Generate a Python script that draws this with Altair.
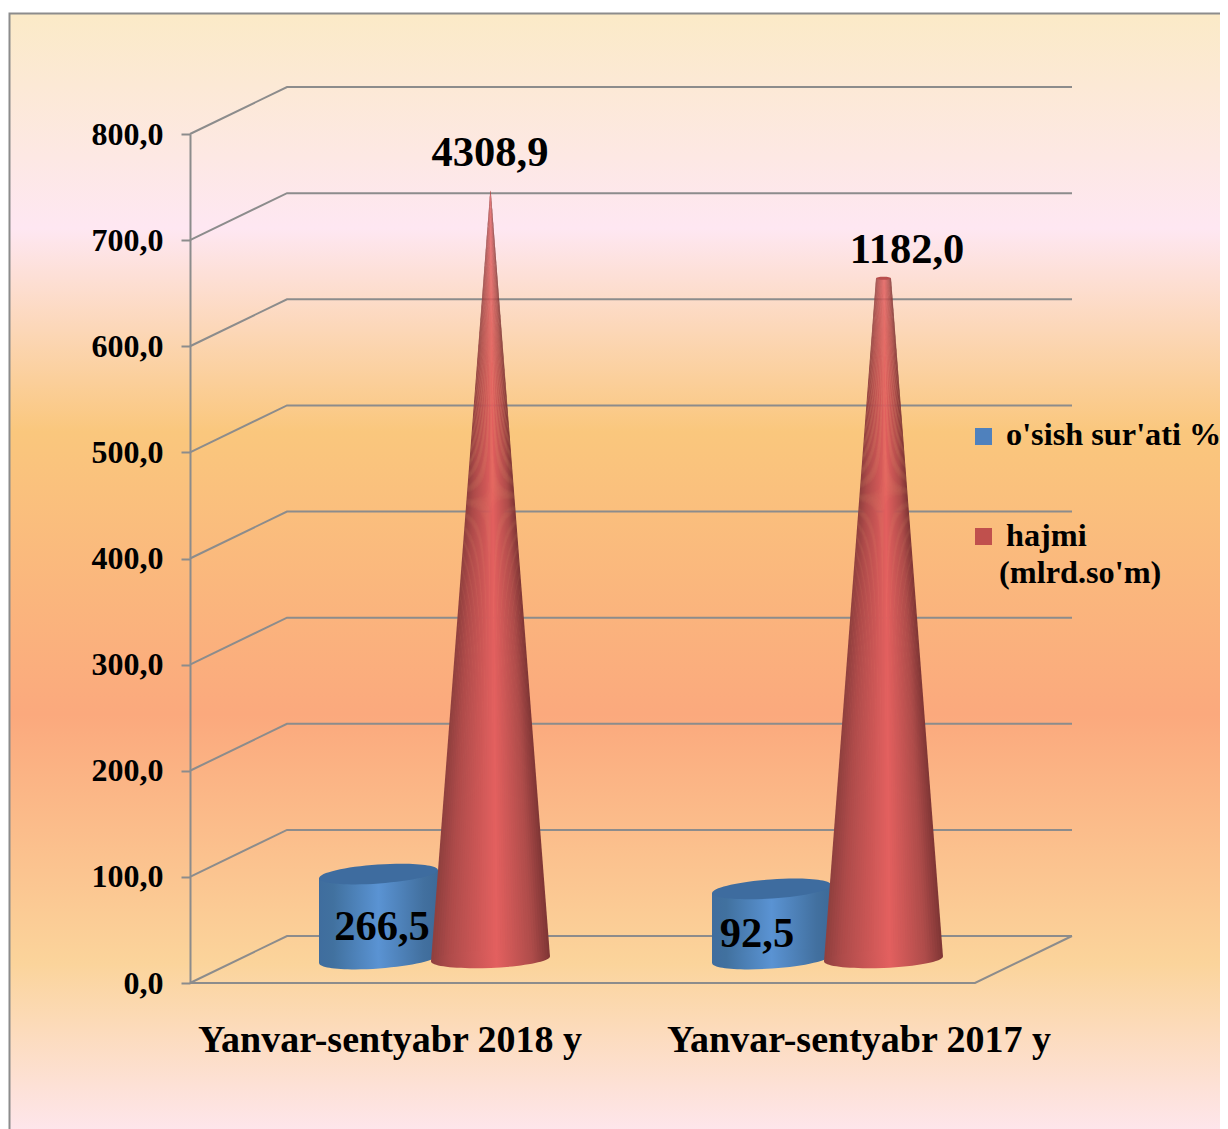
import altair as alt

# ---- chart values ----
categories = ["Yanvar-sentyabr 2018 y", "Yanvar-sentyabr 2017 y"]
growth_labels = ["266,5", "92,5"]
volume_labels = ["4308,9", "1182,0"]
growth_drawn = [102.7, 88.6]    # height of the cylinder tops as read on the axis
volume_drawn = [747.0, 664.0]   # height of the cone tops as read on the axis
base_level = 22.6               # floor level of the columns at mid depth
y_ticks = [0, 100, 200, 300, 400, 500, 600, 700, 800]
legend_labels = ["o'sish sur'ati %", "hajmi"]
legend_second_line = "(mlrd.so'm)"

# ---- layout (plot area = px from x 190, y 134..983) ----
PPU = 849 / 800
W, H = 885, 849
DEPTH_X, DEPTH_Y = 97, 47 / PPU
FLOOR_W = 785
cyl_x = [188.5, 581.5]
cone_x = [300.5, 693.5]
HALF = 59.5
cone_top_half = [0.2, 7.5]
STRIPS = 48
FONT = "Liberation Serif"
GRAY = "#8C8C8C"
RED_STOPS = [(0, "#8F3F3E"), (0.15, "#AE4B4A"), (0.55, "#E3605F"), (0.85, "#AE4C4A"), (1, "#7E3534")]
BLUE_STOPS = [(0, "#3F6D9E"), (0.12, "#41719F"), (0.5, "#5A93D3"), (0.88, "#42709F"), (1, "#3D6A98")]


def vy(pix_y):
    return (983 - pix_y) / PPU


def vx(pix_x):
    return pix_x - 190


def ellipse(r):
    a, b = 0.5523 * r, 0.5523
    return (f"M-1,0 C-1,-{a} -{b},-{r} 0,-{r} C{b},-{r} 1,-{a} 1,0 "
            f"C1,{a} {b},{r} 0,{r} C-{b},{r} -1,{a} -1,0 Z")


def grad(stops):
    return alt.LinearGradient(
        gradient="linear", x1=0, x2=1, y1=0, y2=0,
        stops=[alt.GradientStop(color=c, offset=o) for o, c in stops])


def shade(stops, t):
    for (o0, c0), (o1, c1) in zip(stops, stops[1:]):
        if t <= o1:
            f = (t - o0) / (o1 - o0)
            ch = [round(int(c0[k:k + 2], 16) * (1 - f) + int(c1[k:k + 2], 16) * f) for k in (1, 3, 5)]
            return "#%02X%02X%02X" % tuple(ch)
    return stops[-1][1]


xs = alt.Scale(domain=[0, W], range=[0, W], nice=False, zero=False)
ys = alt.Scale(domain=[0, 800], nice=False, zero=False)
y_axis = alt.Axis(
    values=y_ticks, title=None, grid=False, zindex=1,
    labelExpr="replace(format(datum.value,'.1f'),'.',',')",
    labelFont=FONT, labelFontWeight="bold", labelFontSize=32, labelColor="#000",
    labelPadding=18, tickSize=9, tickWidth=2, tickColor=GRAY,
    domainColor=GRAY, domainWidth=2, labelOverlap=False, labelBound=False)
X = alt.X("x:Q", scale=xs, axis=None)
Y = alt.Y("y:Q", scale=ys, axis=y_axis)

# background panel
bg_grad = alt.LinearGradient(
    gradient="linear", x1=0, x2=0, y1=0, y2=1,
    stops=[alt.GradientStop(color=c, offset=o) for o, c in [
        (0, "#FBEAC7"), (0.19, "#FEE7F2"), (0.37, "#FAC77D"),
        (0.62, "#FBA97D"), (0.84, "#FBD49B"), (1, "#FEE7F2")]])
background = alt.Chart(alt.Data(values=[{"a": 1}])).mark_rect(
    fill=bg_grad, stroke=GRAY, strokeWidth=2
).encode(x=alt.value(-180.5), x2=alt.value(1060), y=alt.value(-120.5), y2=alt.value(1010))

# walls and floor lines
wall_rows = []
for t in y_ticks:
    wall_rows += [{"x": 0, "y": t, "s": f"g{t}"},
                  {"x": DEPTH_X, "y": t + DEPTH_Y, "s": f"g{t}"},
                  {"x": FLOOR_W + DEPTH_X, "y": t + DEPTH_Y, "s": f"g{t}"}]
wall_rows += [{"x": 0, "y": 0, "s": "floor"},
              {"x": FLOOR_W, "y": 0, "s": "floor"},
              {"x": FLOOR_W + DEPTH_X, "y": DEPTH_Y, "s": "floor"}]
walls = alt.Chart(alt.Data(values=wall_rows)).mark_line(
    stroke=GRAY, strokeWidth=2
).encode(x=X, y=Y, detail="s:N", order="x:Q")

TILT_C = 4 / PPU    # half tilt of a cylinder
TILT_K = 2.5 / PPU  # half tilt of a cone base

cyl_rows, cyl_base, cyl_top = [], [], []
for i, c in enumerate(categories):
    cx, top = cyl_x[i], growth_drawn[i]
    cyl_rows += [
        {"x": cx - HALF, "y": top - TILT_C, "y2": base_level - TILT_C, "s": c},
        {"x": cx + HALF, "y": top + TILT_C, "y2": base_level + TILT_C, "s": c}]
    cyl_base.append({"x": cx, "y": base_level})
    cyl_top.append({"x": cx, "y": top})

cyl_body = alt.Chart(alt.Data(values=cyl_rows)).mark_area(fill=grad(BLUE_STOPS), interpolate="linear").encode(
    x=X, y=Y, y2="y2:Q", detail="s:N")
cyl_bottom = alt.Chart(alt.Data(values=cyl_base)).mark_point(
    shape=ellipse(0.16), size=(2 * HALF) ** 2, filled=True, fill=grad(BLUE_STOPS), opacity=1, angle=356
).encode(x=X, y=Y)
cyl_cap = alt.Chart(alt.Data(values=cyl_top)).mark_point(
    shape=ellipse(0.16), size=(2 * HALF) ** 2, filled=True, fill="#3E6C9F", opacity=1, angle=356
).encode(x=X, y=Y)

# each cone is a fan of narrow strips, so the shading follows the taper
cone_rows, cone_base, cone_top = [], [], []
for i, c in enumerate(categories):
    cx, top, th = cone_x[i], volume_drawn[i], cone_top_half[i]
    for k in range(STRIPS):
        t0, t1 = k / STRIPS, min((k + 1.4) / STRIPS, 1)
        mid = (k + 0.5) / STRIPS
        key = f"{i}-{k:02d}"
        col = shade(RED_STOPS, mid)
        tilt = TILT_K * (2 * mid - 1)
        cone_rows += [
            {"x": cx - th + 2 * th * t0, "x2": cx - th + 2 * th * t1, "y": top, "s": key, "c": col},
            {"x": cx - HALF + 2 * HALF * t0, "x2": cx - HALF + 2 * HALF * t1, "y": base_level + tilt, "s": key, "c": col}]
    cone_base.append({"x": cx, "y": base_level})
    if th > 1:
        cone_top.append({"x": cx, "y": top})

cone_body = alt.Chart(alt.Data(values=cone_rows)).mark_area(
    orient="horizontal", interpolate="linear", opacity=1
).encode(
    y=Y, x=X, x2="x2:Q", detail="s:N", color=alt.Color("c:N", scale=None))
cone_bottom = alt.Chart(alt.Data(values=cone_base)).mark_point(
    shape=ellipse(0.15), size=(2 * HALF) ** 2, filled=True, fill=grad(RED_STOPS), opacity=1, angle=357.5
).encode(x=X, y=Y)
cone_cap = alt.Chart(alt.Data(values=cone_top)).mark_point(
    shape=ellipse(0.2), size=15 ** 2, filled=True, fill="#B94F4D", opacity=1
).encode(x=X, y=Y)


def text_layer(rows, size, align="center"):
    return alt.Chart(alt.Data(values=rows)).mark_text(
        font=FONT, fontWeight="bold", fontSize=size, color="#000", align=align, baseline="middle"
    ).encode(x=X, y=Y, text="t:N")


volume_text = text_layer([
    {"x": vx(490), "y": vy(153), "t": volume_labels[0]},
    {"x": vx(907), "y": vy(250), "t": volume_labels[1]}], 42.5)
growth_text = text_layer([
    {"x": vx(382), "y": vy(927), "t": growth_labels[0]},
    {"x": vx(757), "y": vy(934), "t": growth_labels[1]}], 42.5)
cat_text = text_layer([
    {"x": vx(390), "y": vy(1041), "t": categories[0]},
    {"x": vx(859), "y": vy(1041), "t": categories[1]}], 38)
legend_text = text_layer([
    {"x": vx(1006), "y": vy(435), "t": legend_labels[0]},
    {"x": vx(1006), "y": vy(536), "t": legend_labels[1]},
    {"x": vx(999), "y": vy(573), "t": legend_second_line}], 32.3, "left")
legend_marks = alt.Chart(alt.Data(values=[
    {"x": vx(983.5), "y": vy(436.5), "c": "#4F81BD"},
    {"x": vx(983.5), "y": vy(536.5), "c": "#C0504D"}])).mark_square(size=17 ** 2, opacity=1).encode(
    x=X, y=Y, color=alt.Color("c:N", scale=None))

chart = alt.layer(
    background, walls, cyl_body, cyl_bottom, cyl_cap, cone_body, cone_bottom, cone_cap,
    volume_text, growth_text, cat_text, legend_text, legend_marks
).properties(
    width=W, height=H, autosize="none",
    padding={"left": 182, "top": 126, "right": 145, "bottom": 146},
    background="white",
).configure_view(stroke=None)

chart.save("out.html", embed_options={"renderer": "svg", "actions": False})
